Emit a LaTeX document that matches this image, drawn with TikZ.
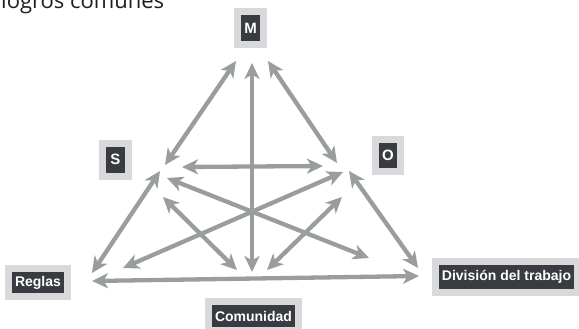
\documentclass[tikz,border=0pt]{standalone}
\usepackage{fontspec}
\setmainfont{Liberation Sans}
\newfontfamily\titlefont{Open Sans}
\usetikzlibrary{arrows.meta}
\definecolor{arrgray}{RGB}{153,157,157}
\definecolor{boxdark}{RGB}{56,59,64}
\definecolor{boxlight}{RGB}{217,217,220}
\definecolor{titlecol}{RGB}{30,30,30}
\tikzset{
  lbl/.style={fill=boxdark, text=white, font=\bfseries\fontsize{14}{14}\selectfont,
    inner xsep=3pt, inner ysep=0pt, minimum height=23pt,
    preaction={draw=boxlight, line width=14pt}},
  single/.style={lbl, font=\bfseries\fontsize{15}{15}\selectfont, minimum width=19pt, minimum height=26pt},
  biarrow/.style={draw=arrgray, line width=4.3pt,
    {Stealth[length=16pt,width=15pt,inset=4.5pt]}-{Stealth[length=16pt,width=15pt,inset=4.5pt]}}
}
\begin{document}
\begin{tikzpicture}[x=1pt,y=-1pt]
\useasboundingbox (0,0) rectangle (579,329);
\node[anchor=base west, text=titlecol, font=\titlefont\fontsize{22}{22}\selectfont, inner sep=0pt] (title) at (1,9) {logros comunes};

% endpoints
\coordinate (m1) at (236,61);  \coordinate (s1) at (165,165);
\coordinate (m2) at (252,63);  \coordinate (c1) at (252,272);
\coordinate (m3) at (268,61);  \coordinate (o1) at (337,163);
\coordinate (s2) at (182,167); \coordinate (o2) at (323,166);
\coordinate (r1) at (92,273);  \coordinate (s3) at (160,171);
\coordinate (r2) at (123,268); \coordinate (o3) at (343,172);
\coordinate (s4) at (167,178); \coordinate (d1) at (369,258);
\coordinate (o4) at (349,171); \coordinate (d2) at (418,268);
\coordinate (r3) at (92,281);  \coordinate (d3) at (419,276);
\coordinate (s5) at (163,197); \coordinate (c2) at (237,270);
\coordinate (o5) at (342,197); \coordinate (c3) at (267,270);

\draw[biarrow] (m1) -- (s1);
\draw[biarrow] (m2) -- (c1);
\draw[biarrow] (m3) -- (o1);
\draw[biarrow] (s2) -- (o2);
\draw[biarrow] (r1) -- (s3);
\draw[biarrow] (r2) -- (o3);
\draw[biarrow] (s4) -- (d1);
\draw[biarrow] (o4) -- (d2);
\draw[biarrow] (r3) -- (d3);
\draw[biarrow] (s5) -- (c2);
\draw[biarrow] (o5) -- (c3);

% labels
\node[single] (M) at (250.5,28.5) {M};
\node[single] (S) at (115.5,159.5) {S};
\node[single, minimum width=18pt, minimum height=25pt] (O) at (388,155.5) {O};
\node[lbl, minimum height=21pt] (R) at (38,282.5) {Reglas};
\node[lbl, minimum height=22pt] (C) at (253.5,316) {Comunidad};
\node[lbl, minimum height=24pt] (D) at (506.5,277) {División del trabajo};
\end{tikzpicture}
\end{document}
